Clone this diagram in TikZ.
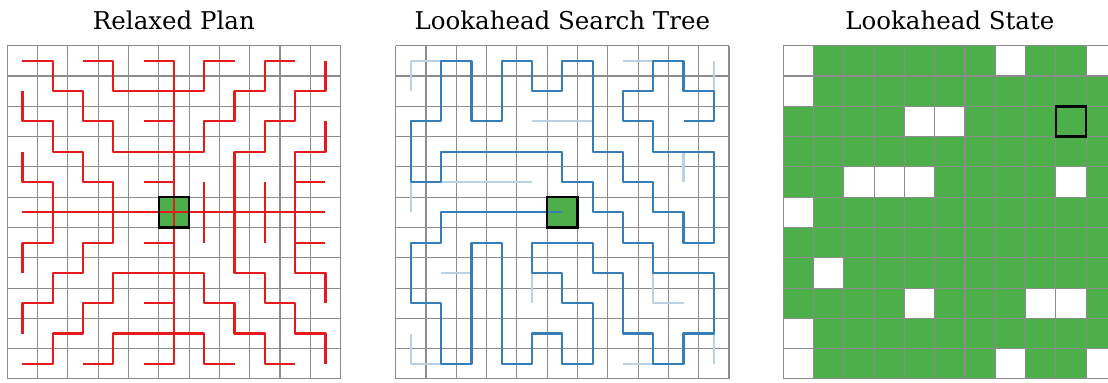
\documentclass[tikz,border=0pt]{standalone}
\usepackage{fontspec}
\setmainfont{DejaVu Serif}
\usetikzlibrary{calc}
\definecolor{planred}{HTML}{E41A1C}
\definecolor{treeblue}{HTML}{377EB8}
\definecolor{stategreen}{HTML}{4DAF4A}

\begin{document}
\begin{tikzpicture}[
  x=0.5cm, y=-0.5cm,
  font=\fontsize{11.5}{14}\selectfont,
  gridline/.style={draw=black!45, line width=0.5pt},
  plan/.style={draw=planred, line width=1pt, line join=round},
  tree/.style={draw=treeblue, line width=1pt, line join=round},
  pruned/.style={draw=treeblue!35, line width=1pt, line join=round},
  agentfill/.style={fill=stategreen},
  agentframe/.style={draw=black, line width=1.2pt},
  title/.style={anchor=base}
]

\clip (0,0) rectangle (36.57,12.61);
\def\gy{1.508}

% --- Titles ---
\node[title] (plantitle)  at (5.74,0.97)  {Relaxed Plan};
\node[title] (treetitle)  at (18.56,0.97) {Lookahead Search Tree};
\node[title] (statetitle) at (31.35,0.97) {Lookahead State};

% --- Relaxed plan ---
\begin{scope}[shift={(0.241,\gy)}]
  \fill[agentfill] (5,5) rectangle ++(1,1);
  \foreach \k in {0,...,11} {
    \draw[gridline] (\k,0) -- (\k,11);
    \draw[gridline] (0,\k) -- (11,\k);
  }
  \begin{scope}[shift={(0.5,0.5)}]
    \draw[plan] (0,0) -- (1,0) -- (1,1) -- (2,1) -- (2,2) -- (3,2) -- (3,3) -- (6,3)
      -- (6,2) -- (7,2) -- (7,1) -- (8,1) -- (8,0) -- (9,0);
    \draw[plan] (2,0) -- (3,0) -- (3,1) -- (6,1) -- (6,0) -- (7,0);
    \draw[plan] (4,0) -- (5,0) -- (5,10) -- (4,10);
    \draw[plan] (4,2) -- (5,2) (4,4) -- (5,4) (4,6) -- (5,6) (4,8) -- (5,8);
    \draw[plan] (0,5) -- (10,5);
    \draw[plan] (0,1) -- (0,2) -- (1,2) -- (1,3) -- (2,3) -- (2,4) -- (3,4) -- (3,6)
      -- (2,6) -- (2,7) -- (1,7) -- (1,8) -- (0,8) -- (0,9);
    \draw[plan] (0,3) -- (0,4) -- (1,4) -- (1,6) -- (0,6) -- (0,7);
    \draw[plan] (10,0) -- (10,1) -- (9,1) -- (9,2) -- (8,2) -- (8,3) -- (7,3) -- (7,7)
      -- (8,7) -- (8,8) -- (9,8) -- (9,9) -- (10,9) -- (10,10);
    \draw[plan] (10,2) -- (10,3) -- (9,3) -- (9,7) -- (10,7) -- (10,8);
    \draw[plan] (9,4) -- (10,4) (9,6) -- (10,6) (6,4) -- (6,6) (8,4) -- (8,6);
    \draw[plan] (0,10) -- (1,10) -- (1,9) -- (2,9) -- (2,8) -- (3,8) -- (3,7) -- (6,7)
      -- (6,8) -- (7,8) -- (7,9) -- (8,9) -- (8,10) -- (9,10);
    \draw[plan] (2,10) -- (3,10) -- (3,9) -- (6,9) -- (6,10) -- (7,10);
  \end{scope}
  \draw[agentframe] (5,5) rectangle ++(1,1);
\end{scope}

% --- Lookahead search tree ---
\begin{scope}[shift={(13.06,\gy)}]
  \fill[agentfill] (5,5) rectangle ++(1,1);
  \foreach \k in {0,...,11} {
    \draw[gridline] (\k,0) -- (\k,11);
    \draw[gridline] (0,\k) -- (11,\k);
  }
  \begin{scope}[shift={(0.5,0.5)}]
    % pruned branches
    \draw[pruned] (1,0) -- (0,0) -- (0,1);
    \draw[pruned] (7,0) -- (8,0) (10,0) -- (10,1) (4,2) -- (6,2);
    \draw[pruned] (1,4) -- (4,4) (0,4) -- (0,5) (9,3) -- (9,4);
    \draw[pruned] (1,7) -- (2,7) (4,7) -- (4,8) (8,7) -- (8,8) -- (9,8);
    \draw[pruned] (0,9) -- (0,10) -- (1,10) (7,10) -- (8,10) (10,9) -- (10,10);
    % expanded path
    \draw[tree] (5,5) -- (1,5) -- (1,6) -- (0,6) -- (0,8) -- (1,8) -- (1,10) -- (2,10)
      -- (2,6) -- (3,6) -- (3,10) -- (4,10) -- (4,9) -- (5,9) -- (5,10) -- (6,10)
      -- (6,8) -- (5,8) -- (5,7) -- (4,7) -- (4,6) -- (6,6) -- (6,7) -- (7,7)
      -- (7,9) -- (8,9) -- (8,10) -- (9,10) -- (9,9) -- (10,9) -- (10,7) -- (8,7)
      -- (8,6) -- (7,6) -- (7,5) -- (6,5) -- (6,4) -- (5,4) -- (5,3) -- (1,3)
      -- (1,4) -- (0,4) -- (0,2) -- (1,2) -- (1,0) -- (2,0) -- (2,2) -- (3,2)
      -- (3,0) -- (4,0) -- (4,1) -- (5,1) -- (5,0) -- (6,0) -- (6,3) -- (7,3)
      -- (7,4) -- (8,4) -- (8,5) -- (9,5) -- (9,6) -- (10,6) -- (10,3) -- (8,3)
      -- (8,2) -- (7,2) -- (7,1) -- (8,1) -- (8,0) -- (9,0) -- (9,1) -- (10,1)
      -- (10,2) -- (9,2);
  \end{scope}
  \draw[agentframe] (5,5) rectangle ++(1,1);
\end{scope}

% --- Lookahead state ---
\begin{scope}[shift={(25.85,\gy)}]
  \fill[agentfill] (0,0) rectangle (11,11);
  \foreach \cx/\ry in {0/0, 7/0, 10/0, 0/1, 4/2, 5/2, 2/4, 3/4, 4/4, 9/4, 0/5,
                       1/7, 4/8, 8/8, 9/8, 0/9, 0/10, 7/10, 10/10}
    \fill[white] (\cx,\ry) rectangle ++(1,1);
  \foreach \k in {0,...,11} {
    \draw[gridline] (\k,0) -- (\k,11);
    \draw[gridline] (0,\k) -- (11,\k);
  }
  \draw[agentframe] (9,2) rectangle ++(1,1);
\end{scope}

\end{tikzpicture}
\end{document}
